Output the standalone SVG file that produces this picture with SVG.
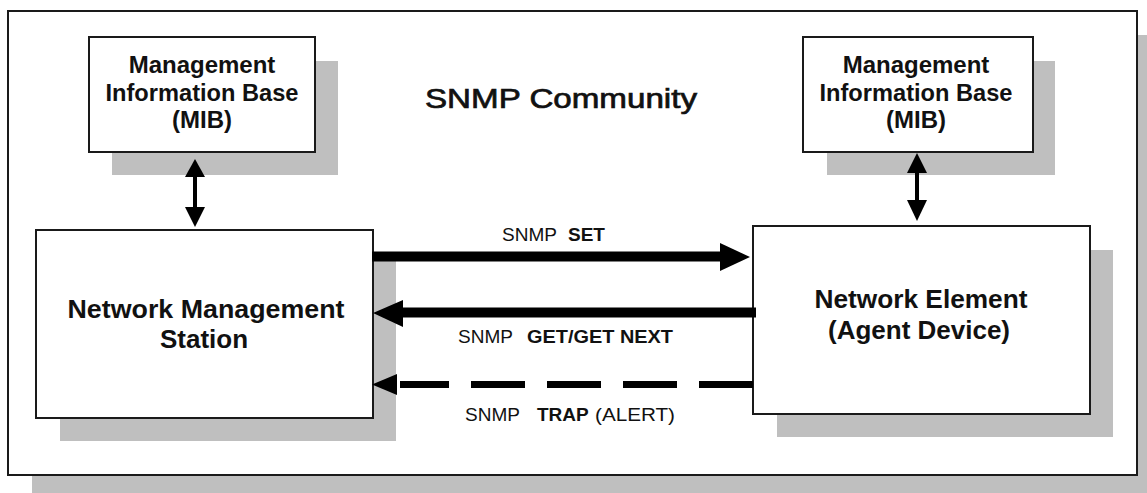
<svg xmlns="http://www.w3.org/2000/svg" width="1147" height="493" viewBox="0 0 1147 493">
<style>
.shadow{fill:#bfbfbf;stroke:none}
.box{fill:#ffffff;stroke:#1a1a1a;stroke-width:2}
.node{font-family:"Liberation Sans",Arial,sans-serif;font-weight:bold;fill:#111;text-anchor:middle}
.lbl{font-family:"Liberation Sans",Arial,sans-serif;font-size:19px;fill:#111}
.b{font-weight:bold}
.title{font-family:"Liberation Sans",Arial,sans-serif;font-size:27px;fill:#111;stroke:#111;stroke-width:0.7;text-anchor:middle}
.ln{stroke:#000;fill:none}
.hd{fill:#000;stroke:none}
</style>
<rect width="1147" height="493" fill="#ffffff"/>
<g id="frame">
<rect class="shadow" x="32" y="35" width="1130" height="465"/>
<rect class="box" x="8" y="11" width="1129" height="464"/>
<text class="title" x="561" y="108" textLength="272" lengthAdjust="spacingAndGlyphs">SNMP Community</text>
</g>
<g id="mib-left">
<rect class="shadow" x="112" y="61" width="226" height="114"/>
<rect class="box" x="89" y="37" width="226" height="115"/>
<text class="node" font-size="24" x="202" y="73">Management</text>
<text class="node" font-size="24" x="202" y="101" textLength="193" lengthAdjust="spacingAndGlyphs">Information Base</text>
<text class="node" font-size="24" x="202" y="128">(MIB)</text>
</g>
<g id="mib-right">
<rect class="shadow" x="827" y="61" width="228" height="114"/>
<rect class="box" x="803" y="37" width="230" height="115"/>
<text class="node" font-size="24" x="916" y="73">Management</text>
<text class="node" font-size="24" x="916" y="101" textLength="193" lengthAdjust="spacingAndGlyphs">Information Base</text>
<text class="node" font-size="24" x="916" y="128">(MIB)</text>
</g>
<g id="nms">
<rect class="shadow" x="60" y="253" width="336" height="188"/>
<rect class="box" x="36" y="230" width="337" height="188"/>
<text class="node" font-size="26" x="206" y="318" textLength="277" lengthAdjust="spacingAndGlyphs">Network Management</text>
<text class="node" font-size="26" x="204" y="348">Station</text>
</g>
<g id="ne">
<rect class="shadow" x="777" y="250" width="336" height="187"/>
<rect class="box" x="753" y="226" width="337" height="188"/>
<text class="node" font-size="26" x="921" y="308" textLength="213" lengthAdjust="spacingAndGlyphs">Network Element</text>
<text class="node" font-size="26" x="919" y="339" textLength="182" lengthAdjust="spacingAndGlyphs">(Agent Device)</text>
</g>
<g id="connectors">
<line class="ln" x1="195" y1="175" x2="195" y2="209" stroke-width="4"/>
<polygon class="hd" points="195,159 205,177 185,177"/>
<polygon class="hd" points="195,227 205,207 185,207"/>
<line class="ln" x1="917" y1="171" x2="917" y2="202" stroke-width="4"/>
<polygon class="hd" points="917,153 927,173 907,173"/>
<polygon class="hd" points="917,221 927,200 907,200"/>
<line class="ln" x1="372" y1="256.5" x2="722" y2="256.5" stroke-width="10"/>
<polygon class="hd" points="720,243 750,257 720,271"/>
<line class="ln" x1="401" y1="312.5" x2="756" y2="312.5" stroke-width="10"/>
<polygon class="hd" points="373,313 403,300 403,327"/>
<line class="ln" x1="753" y1="384.5" x2="400" y2="384.5" stroke-width="7" stroke-dasharray="54 22"/>
<polygon class="hd" points="372,384.5 397,374 397,395"/>
<text class="lbl" x="502" y="241"><tspan>SNMP</tspan><tspan class="b" x="568">SET</tspan></text>
<text class="lbl" x="458" y="343"><tspan>SNMP</tspan><tspan class="b" x="527" textLength="146" lengthAdjust="spacingAndGlyphs">GET/GET NEXT</tspan></text>
<text class="lbl" x="465" y="421"><tspan>SNMP</tspan><tspan class="b" x="537">TRAP</tspan><tspan x="595" textLength="80" lengthAdjust="spacingAndGlyphs">(ALERT)</tspan></text>
</g>
</svg>
